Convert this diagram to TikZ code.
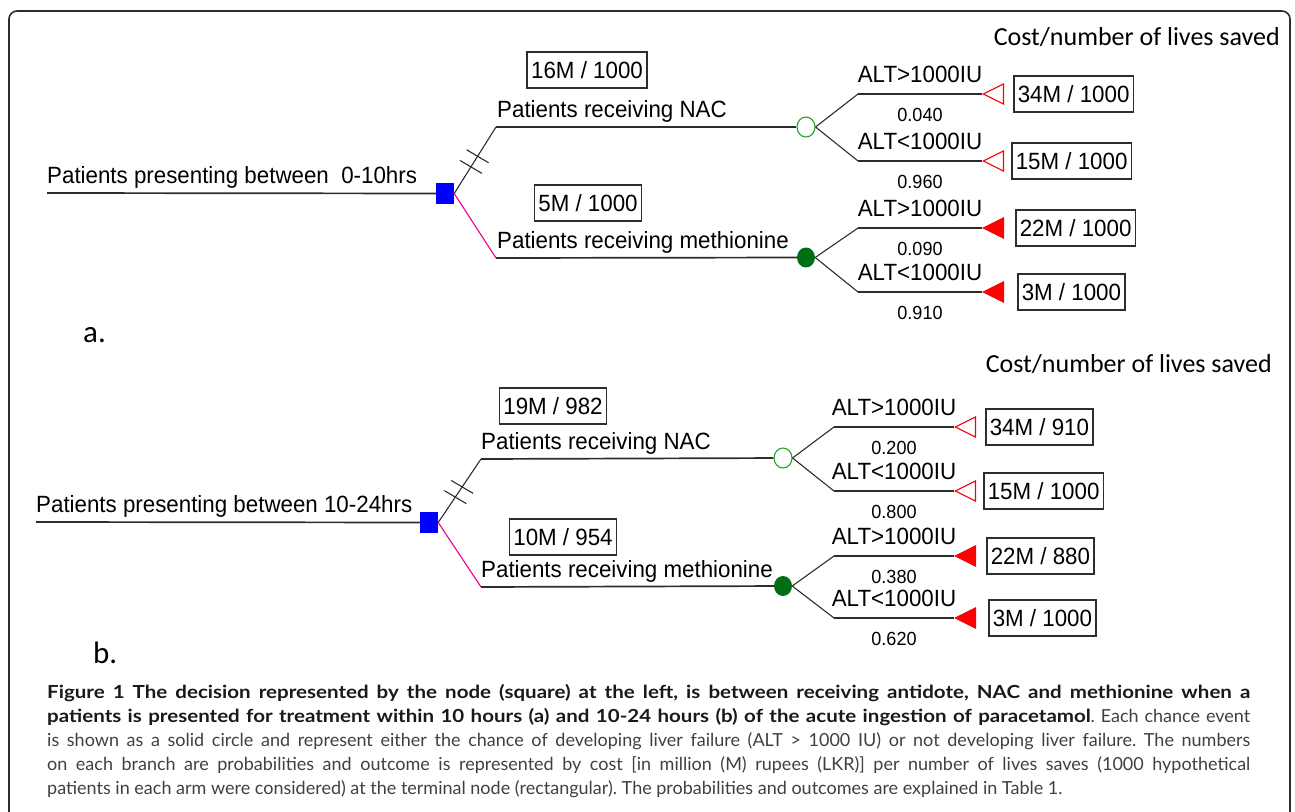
\documentclass[tikz,border=0pt]{standalone}
\usepackage{fontspec}
\setmainfont{Lato}[BoldFeatures={FakeStretch=1.14}]
\newfontfamily\treefont[FakeStretch=0.95]{Liberation Sans}
\newfontfamily\labfont{Carlito}
\usetikzlibrary{calc,positioning,shapes.geometric}
\definecolor{chancegreen}{RGB}{40,160,40}
\definecolor{darkchance}{RGB}{0,110,20}
\definecolor{branchgray}{RGB}{45,45,45}

\begin{document}
\begin{tikzpicture}[x=1pt,y=-1pt,
  branch/.style={draw=branchgray,line width=1.7pt},
  diag/.style={draw=branchgray,line width=1.1pt},
  decision/.style={rectangle,fill=blue,minimum width=18pt,minimum height=21pt,inner sep=0pt},
  chanceopen/.style={ellipse,draw=chancegreen,fill=white,line width=1.1pt,minimum width=18pt,minimum height=20pt,inner sep=0pt},
  chancefull/.style={ellipse,fill=darkchance,minimum width=18pt,minimum height=20pt,inner sep=0pt},
  endopen/.style={isosceles triangle,isosceles triangle stretches,shape border rotate=180,draw=red,fill=white,line width=1.1pt,minimum width=20pt,minimum height=20pt,inner sep=0pt,anchor=apex},
  endfull/.style={endopen,fill=red},
  valbox/.style={draw=branchgray,line width=1.6pt,minimum height=36pt,inner xsep=4pt,inner ysep=0pt,font=\treefont\fontsize{23.5}{26}\selectfont},
  treetext/.style={font=\treefont\fontsize{23.5}{26}\selectfont,inner sep=0pt,anchor=base west},
  alt/.style={font=\treefont\fontsize{23.5}{26}\selectfont,inner sep=0pt},
  prob/.style={font=\treefont\fontsize{19}{22}\selectfont,inner sep=0pt},
  costlabel/.style={font=\labfont\fontsize{26}{30}\selectfont,inner sep=0pt,anchor=base east},
  panel/.style={font=\labfont\fontsize{31}{36}\selectfont,inner sep=0pt,anchor=base west}]

\useasboundingbox (0,0) rectangle (1295,811);
% Frame
\draw[line width=1.6pt,draw=branchgray,rounded corners=8pt] (9,11) rectangle (1290,840);

% ---------- Tree a ----------
\node[costlabel] (costA) at (1280,45) {Cost/number of lives saved};
\node[panel] (panA) at (83,342) {a.};

\coordinate (rA) at (47,193);
\node[decision] (dA) at (445,193.5) {};
\node[treetext] (rootA) at (47,183) {Patients presenting between\ \ 0-10hrs};
\draw[branch] (rA) -- (dA);

% Decision branches
\coordinate (kAn) at (496,127);
\coordinate (kAm) at (496,258);
\node[chanceopen] (cAn) at (806,127) {};
\node[chancefull] (cAm) at (806,257.5) {};
\draw[diag] (dA.east) -- (kAn);
\draw[branch] (kAn) -- (cAn);
\draw[diag,magenta] (dA.east) -- (kAm);
\draw[branch] (kAm) -- (cAm);
\draw[diag] ($(dA.east)!0.40!(kAn)$) +(-11,-6.5) -- +(11,6.5);
\draw[diag] ($(dA.east)!0.56!(kAn)$) +(-11,-6.5) -- +(11,6.5);

\node[treetext] (nacA) at (497,117) {Patients receiving NAC};
\node[treetext] (metA) at (497,248) {Patients receiving methionine};
\node[valbox] (vAn) at (587,70) {16M / 1000};
\node[valbox] (vAm) at (588,203) {5M / 1000};

% Chance branches
\coordinate (kAn1) at (858,94);
\coordinate (kAn2) at (858,161);
\coordinate (kAm1) at (858,228);
\coordinate (kAm2) at (858,292);
\node[endopen] (eAn1) at (982,94) {};
\node[endopen] (eAn2) at (982,161) {};
\node[endfull] (eAm1) at (982,228) {};
\node[endfull] (eAm2) at (982,292) {};
\draw[diag] (cAn.east) -- (kAn1);
\draw[diag] (cAn.east) -- (kAn2);
\draw[diag] (cAm.east) -- (kAm1);
\draw[diag] (cAm.east) -- (kAm2);
\draw[branch] (kAn1) -- (eAn1.apex) node[midway,above=10pt,alt] (lAn1) {ALT>1000IU} node[midway,below=13pt,prob] (pAn1) {0.040};
\draw[branch] (kAn2) -- (eAn2.apex) node[midway,above=10pt,alt] (lAn2) {ALT<1000IU} node[midway,below=13pt,prob] (pAn2) {0.960};
\draw[branch] (kAm1) -- (eAm1.apex) node[midway,above=10pt,alt] (lAm1) {ALT>1000IU} node[midway,below=13pt,prob] (pAm1) {0.090};
\draw[branch] (kAm2) -- (eAm2.apex) node[midway,above=10pt,alt] (lAm2) {ALT<1000IU} node[midway,below=13pt,prob] (pAm2) {0.910};

\node[valbox,right=9pt of eAn1] (oAn1) {34M / 1000};
\node[valbox,right=7pt of eAn2] (oAn2) {15M / 1000};
\node[valbox,right=11pt of eAm1] (oAm1) {22M / 1000};
\node[valbox,right=13pt of eAm2] (oAm2) {3M / 1000};

% ---------- Tree b ----------
\node[costlabel] (costB) at (1272,372) {Cost/number of lives saved};
\node[panel] (panB) at (93,663) {b.};

\coordinate (rB) at (36,522);
\node[decision] (dB) at (429,522.5) {};
\node[treetext] (rootB) at (36,512) {Patients presenting between 10-24hrs};
\draw[branch] (rB) -- (dB);

% Decision branches
\coordinate (kBn) at (481,459);
\coordinate (kBm) at (481,587);
\node[chanceopen] (cBn) at (783,458) {};
\node[chancefull] (cBm) at (783,586) {};
\draw[diag] (dB.east) -- (kBn);
\draw[branch] (kBn) -- (cBn);
\draw[diag,magenta] (dB.east) -- (kBm);
\draw[branch] (kBm) -- (cBm);
\draw[diag] ($(dB.east)!0.40!(kBn)$) +(-11,-6.5) -- +(11,6.5);
\draw[diag] ($(dB.east)!0.56!(kBn)$) +(-11,-6.5) -- +(11,6.5);

\node[treetext] (nacB) at (481,449) {Patients receiving NAC};
\node[treetext] (metB) at (481,577) {Patients receiving methionine};
\node[valbox] (vBn) at (553,406) {19M / 982};
\node[valbox] (vBm) at (563,537) {10M / 954};

% Chance branches
\coordinate (kBn1) at (834,427);
\coordinate (kBn2) at (834,491);
\coordinate (kBm1) at (834,556);
\coordinate (kBm2) at (834,618);
\node[endopen] (eBn1) at (954,427) {};
\node[endopen] (eBn2) at (954,491) {};
\node[endfull] (eBm1) at (954,556) {};
\node[endfull] (eBm2) at (954,618) {};
\draw[diag] (cBn.east) -- (kBn1);
\draw[diag] (cBn.east) -- (kBn2);
\draw[diag] (cBm.east) -- (kBm1);
\draw[diag] (cBm.east) -- (kBm2);
\draw[branch] (kBn1) -- (eBn1.apex) node[midway,above=10pt,alt] (lBn1) {ALT>1000IU} node[midway,below=13pt,prob] (pBn1) {0.200};
\draw[branch] (kBn2) -- (eBn2.apex) node[midway,above=10pt,alt] (lBn2) {ALT<1000IU} node[midway,below=13pt,prob] (pBn2) {0.800};
\draw[branch] (kBm1) -- (eBm1.apex) node[midway,above=10pt,alt] (lBm1) {ALT>1000IU} node[midway,below=13pt,prob] (pBm1) {0.380};
\draw[branch] (kBm2) -- (eBm2.apex) node[midway,above=10pt,alt] (lBm2) {ALT<1000IU} node[midway,below=13pt,prob] (pBm2) {0.620};

\node[valbox,right=9pt of eBn1] (oBn1) {34M / 910};
\node[valbox,right=7pt of eBn2] (oBn2) {15M / 1000};
\node[valbox,right=10pt of eBm1] (oBm1) {22M / 880};
\node[valbox,right=12pt of eBm2] (oBm2) {3M / 1000};

% Caption
\node[anchor=north west,inner sep=0pt,text width=1203pt,align=justify,text=black!75,
  font=\fontsize{18}{24}\selectfont\frenchspacing] (cap) at (47,684)
  {\textbf{\color{black!90}Figure 1 The decision represented by the node (square) at the left, is between receiving antidote, NAC and methionine when a\linebreak
  patients is presented for treatment within 10 hours (a) and 10-24 hours (b) of the acute ingestion of paracetamol}. Each chance event\linebreak
  is shown as a solid circle and represent either the chance of developing liver failure (ALT > 1000 IU) or not developing liver failure. The numbers\linebreak
  on each branch are probabilities and outcome is represented by cost [in million (M) rupees (LKR)] per number of lives saves (1000 hypothetical\linebreak
  patients in each arm were considered) at the terminal node (rectangular). The probabilities and outcomes are explained in Table 1.};
\end{tikzpicture}
\end{document}
